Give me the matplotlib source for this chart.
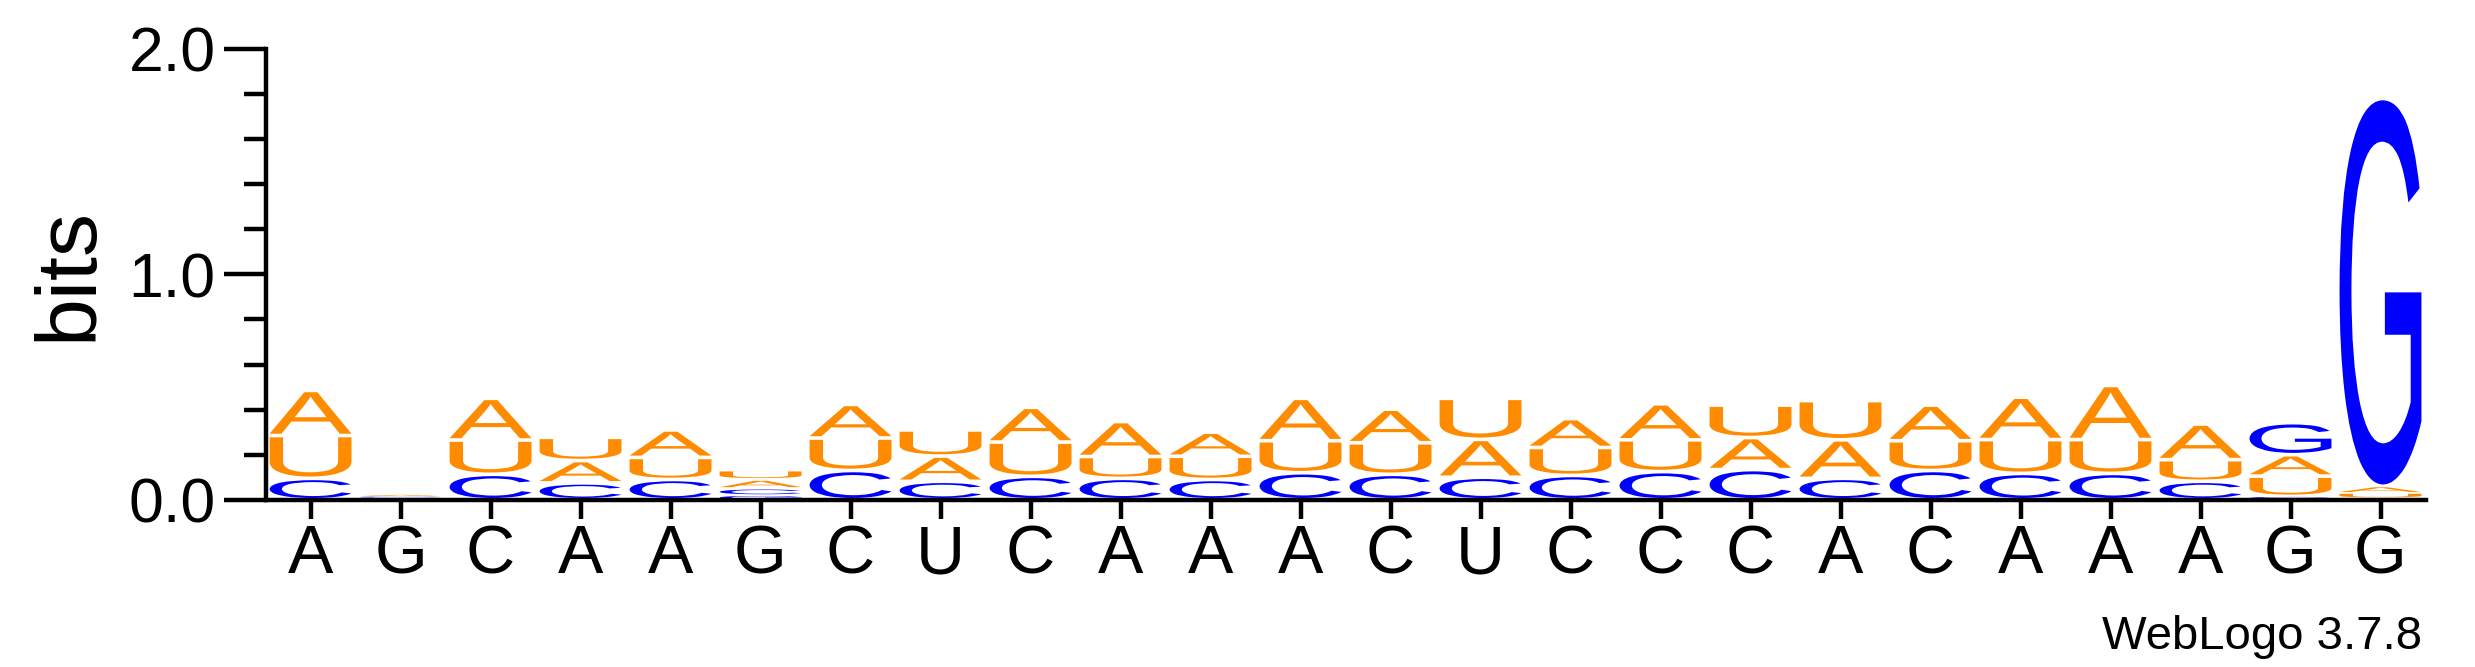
import matplotlib
matplotlib.use("Agg")
import matplotlib.pyplot as plt
from matplotlib.textpath import TextPath
from matplotlib.patches import PathPatch
from matplotlib.font_manager import FontProperties
from matplotlib.transforms import Affine2D
from matplotlib.ticker import MultipleLocator, FormatStrFormatter

plt.rcParams["font.family"] = ["Liberation Sans", "DejaVu Sans"]

# consensus sequence shown under the logo
seq_labels = list("AGCAAGCUCAAACUCCCACAAAGG")

# letter heights in bits per position
heights_A = [0.200, 0.008, 0.185, 0.099, 0.122, 0.040, 0.149, 0.112, 0.154, 0.155, 0.107, 0.188,
             0.149, 0.168, 0.128, 0.160, 0.142, 0.171, 0.158, 0.188, 0.240, 0.158, 0.095, 0.030]
heights_C = [0.095, 0.006, 0.113, 0.075, 0.090, 0.030, 0.130, 0.082, 0.104, 0.095, 0.090, 0.120,
             0.113, 0.100, 0.108, 0.125, 0.134, 0.095, 0.130, 0.117, 0.117, 0.082, 0.015, 0.008]
heights_G = [0.000, 0.004, 0.000, 0.000, 0.000, 0.020, 0.000, 0.000, 0.000, 0.000, 0.000, 0.000,
             0.000, 0.000, 0.000, 0.000, 0.000, 0.000, 0.000, 0.000, 0.000, 0.000, 0.142, 1.720]
heights_U = [0.190, 0.005, 0.152, 0.103, 0.098, 0.042, 0.144, 0.116, 0.152, 0.097, 0.103, 0.142,
             0.140, 0.182, 0.124, 0.141, 0.144, 0.174, 0.132, 0.150, 0.150, 0.096, 0.090, 0.022]

letters = ["A", "C", "G", "U"]
colors = {"A": "#FF8C00", "C": "#0000FF", "G": "#0000FF", "U": "#FF8C00"}

glyph_font = FontProperties(family="Liberation Sans")


def draw_letter(ax, ch, x, y0, h, color, width=0.91):
    pad = min(0.008, h * 0.15)
    gh = h - 2 * pad
    if gh <= 0:
        return
    tp = TextPath((0, 0), ch, size=1, prop=glyph_font)
    bb = tp.get_extents()
    tr = (Affine2D()
          .translate(-bb.x0, -bb.y0)
          .scale(width / bb.width, gh / bb.height)
          .translate(x - width / 2, y0 + pad))
    ax.add_patch(PathPatch(tr.transform_path(tp), fc=color, ec="none", lw=0))


fig = plt.figure(figsize=(24.75, 6.67), dpi=100)
ax = fig.add_axes([0.1073, 0.2507, 0.8727, 0.676])

table = {"A": heights_A, "C": heights_C, "G": heights_G, "U": heights_U}
for i in range(len(seq_labels)):
    x = i + 1
    stack = sorted(letters, key=lambda l: table[l][i])  # smallest at bottom
    y = 0.0
    for l in stack:
        h = table[l][i]
        if h > 0:
            draw_letter(ax, l, x, y, h, colors[l])
        y += h

ax.set_xlim(0.5, len(seq_labels) + 0.5)
ax.set_ylim(0, 2.0)

for side in ["top", "right"]:
    ax.spines[side].set_visible(False)
for side in ["left", "bottom"]:
    ax.spines[side].set_linewidth(3.2)

ax.set_xticks(range(1, len(seq_labels) + 1))
ax.set_xticklabels(seq_labels, fontsize=49)
ax.tick_params(axis="x", direction="out", length=14, width=3.2, pad=3)

ax.yaxis.set_major_locator(MultipleLocator(1.0))
ax.yaxis.set_minor_locator(MultipleLocator(0.2))
ax.yaxis.set_major_formatter(FormatStrFormatter("%.1f"))
ax.tick_params(axis="y", which="major", direction="out", length=30, width=3.2, pad=6, labelsize=45)
ax.tick_params(axis="y", which="minor", direction="out", length=16, width=3.2)

ax.set_ylabel("bits", fontsize=62, va="center")
ax.yaxis.set_label_coords(-0.0906, 0.5)

fig.text(2422 / 2475, 1 - 649 / 667, "WebLogo 3.7.8", ha="right", va="baseline", fontsize=34)

fig.savefig("out.png", dpi=100)
